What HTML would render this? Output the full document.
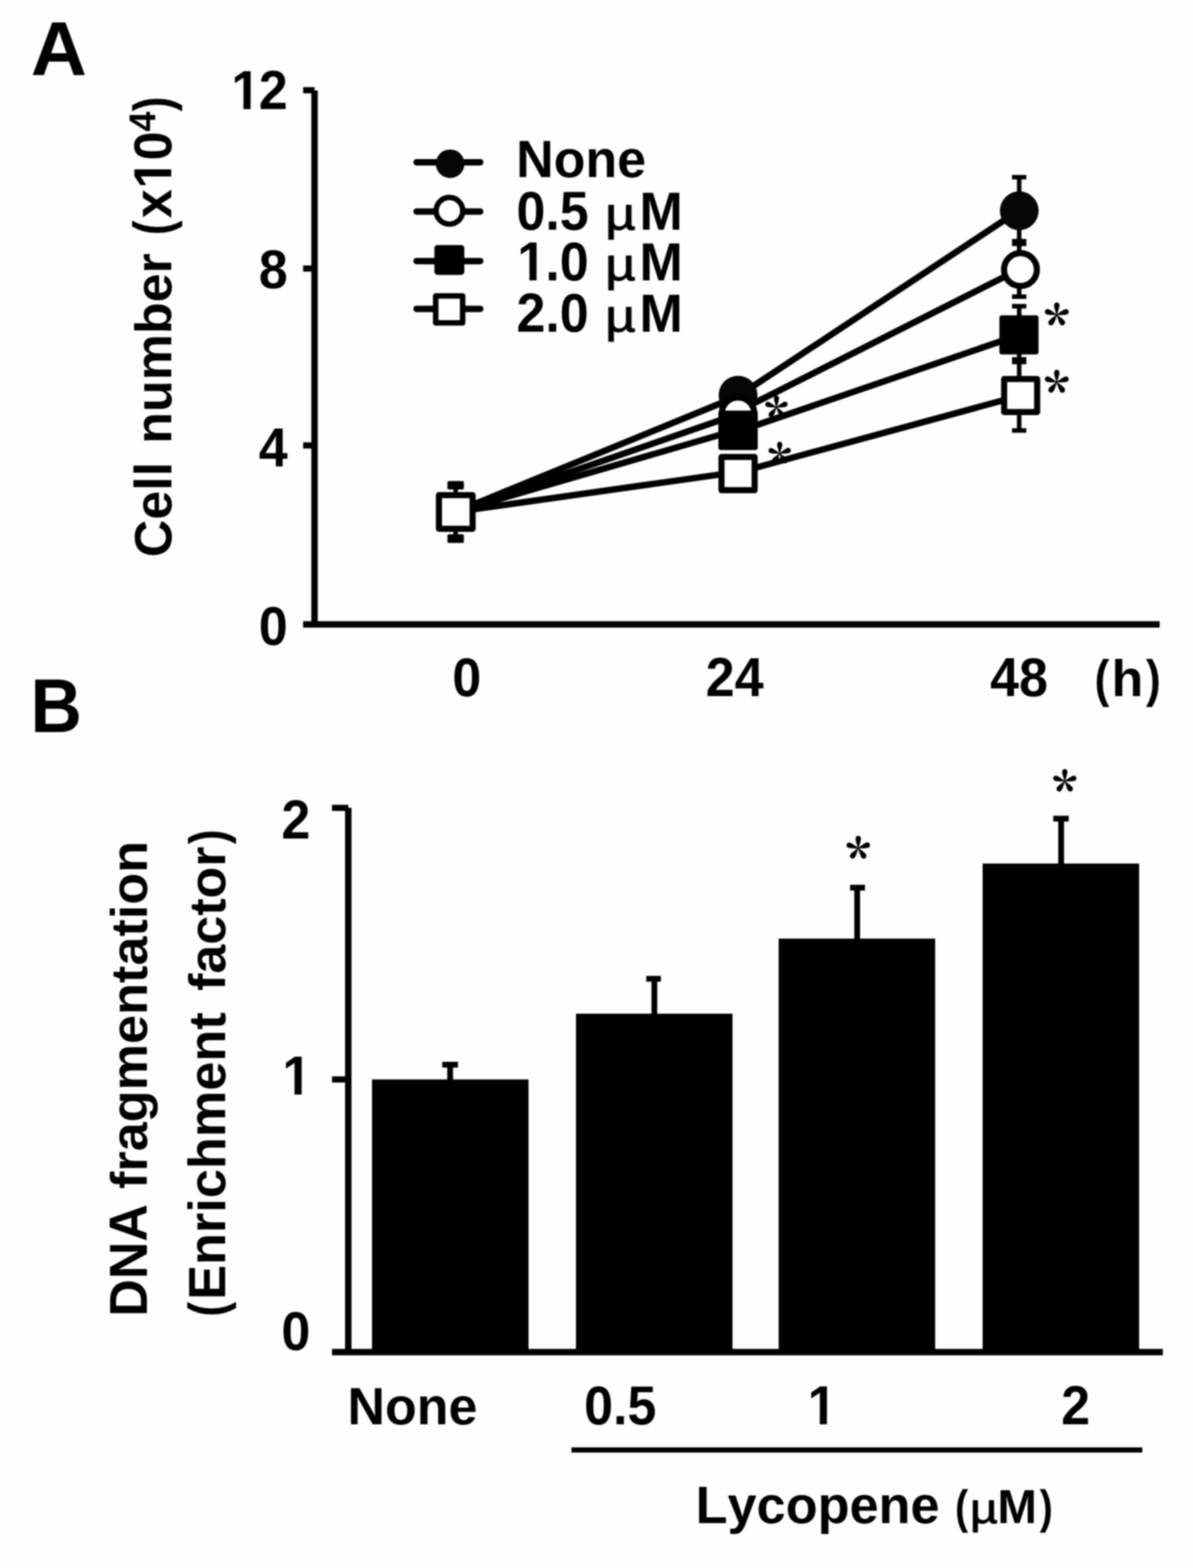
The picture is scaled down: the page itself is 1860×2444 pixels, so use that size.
<!DOCTYPE html>
<html lang="en">
<head>
<meta charset="utf-8">
<title>Figure: Lycopene effects on cell number and DNA fragmentation</title>
<style>
html,body{margin:0;padding:0;background:#fefefe;}
body{width:1860px;height:2444px;overflow:hidden;}
svg{display:block;filter:blur(1px);}
text{fill:#000;font-kerning:none;}
.b{font-family:"Liberation Sans", Arial, Helvetica, sans-serif;font-weight:700;}
.st{font-family:"Noto Serif CJK SC", "Liberation Serif", serif;font-weight:900;}
.mu{font-family:"Liberation Sans", Arial, Helvetica, sans-serif;font-weight:400;stroke:#000;stroke-width:1.3px;stroke-linejoin:round;}
</style>
</head>
<body>
<svg width="1860" height="2444" viewBox="0 0 1860 2444" role="img" aria-label="Panel A: cell number over time; Panel B: DNA fragmentation by lycopene concentration">
<defs>
<clipPath id="nofoot"><rect x="0" y="-70" width="44" height="61.2"/><rect x="18.9" y="-9.2" width="11.15" height="9.7"/><rect x="44" y="-80" width="200" height="110"/></clipPath>
<clipPath id="nofootx"><rect x="-5" y="-80" width="77.5" height="110"/><rect x="72.5" y="-70" width="44" height="61.2"/><rect x="91.38" y="-9.2" width="11.15" height="9.7"/><rect x="116.5" y="-110" width="120" height="140"/></clipPath>
</defs>
<rect x="0" y="0" width="1860" height="2444" fill="#fefefe"/>
<!-- panel labels -->
<text class="b" transform="translate(48,116.9) scale(1.063,1.04)" font-size="114">A</text>
<text class="b" transform="translate(47.4,1140.8) scale(0.975,1.04)" font-size="114">B</text>
<!-- panel A: axes -->
<line x1="490.4" y1="141" x2="490.4" y2="973.3" stroke="#000" stroke-width="10"/>
<line x1="472.6" y1="973.3" x2="1808" y2="973.3" stroke="#000" stroke-width="10"/>
<line x1="472.6" y1="140.6" x2="490.4" y2="140.6" stroke="#000" stroke-width="9.6"/>
<line x1="472.6" y1="418.6" x2="490.4" y2="418.6" stroke="#000" stroke-width="9.6"/>
<line x1="472.6" y1="694.3" x2="490.4" y2="694.3" stroke="#000" stroke-width="9.6"/>
<!-- panel A: tick labels -->
<text class="b" transform="translate(360.628,169.5) scale(1,1.05)" font-size="81" clip-path="url(#nofoot)">1<tspan x="42.836">2</tspan></text>
<text class="b" transform="translate(448.5,449.2) scale(1,1.05)" font-size="81" text-anchor="end">8</text>
<text class="b" transform="translate(448.5,726.6) scale(1,1.05)" font-size="81" text-anchor="end">4</text>
<text class="b" transform="translate(448.5,1004.7) scale(1,1.05)" font-size="81" text-anchor="end">0</text>
<text class="b" transform="translate(727.7,1084.5) scale(1,1.05)" font-size="81" text-anchor="middle">0</text>
<text class="b" transform="translate(1145.4,1084.5) scale(1,1.05)" font-size="81" text-anchor="middle">24</text>
<text class="b" transform="translate(1588.8,1084.5) scale(1,1.05)" font-size="81" text-anchor="middle">48</text>
<text class="b" transform="translate(1706.56,1084.8) scale(1,0.988)" font-size="81"><tspan textLength="22.927" lengthAdjust="spacingAndGlyphs">(</tspan><tspan x="26.44">h</tspan><tspan textLength="22.927" lengthAdjust="spacingAndGlyphs" x="80.3">)</tspan></text>
<!-- panel A: y axis title -->
<text class="b" transform="translate(266.5,868.5) rotate(-90) scale(1,1.01)" font-size="81">Cell</text>
<text class="b" transform="translate(266.5,691.7) rotate(-90) scale(1,0.985)" font-size="81">number</text>
<text class="b" transform="translate(266.5,366.44) rotate(-90) scale(1,1.02)" font-size="81" clip-path="url(#nofootx)"><tspan textLength="22.927" lengthAdjust="spacingAndGlyphs">(</tspan><tspan x="26.44">x</tspan><tspan x="72.48">1</tspan><tspan x="116.51">0</tspan><tspan x="161.44" dy="-24.5" font-size="56">4</tspan><tspan textLength="22.927" lengthAdjust="spacingAndGlyphs" x="192.9" dy="24.5">)</tspan></text>
<!-- panel A: data -->
<line x1="1589" y1="276" x2="1589" y2="462.4" stroke="#000" stroke-width="7"/>
<line x1="1589" y1="477.3" x2="1589" y2="671" stroke="#000" stroke-width="7"/>
<rect x="1577.8" y="272.7" width="22.4" height="7" fill="#000"/>
<rect x="1577.8" y="372.4" width="22.4" height="11.2" fill="#000"/>
<rect x="1577.8" y="458.9" width="22.4" height="7" fill="#000"/>
<rect x="1577.8" y="473.8" width="22.4" height="7" fill="#000"/>
<rect x="1577.8" y="556.7" width="22.4" height="11" fill="#000"/>
<rect x="1577.8" y="667.5" width="22.4" height="7" fill="#000"/>
<line x1="710.4" y1="752" x2="710.4" y2="845" stroke="#000" stroke-width="7"/>
<rect x="697.6" y="749.8" width="25.6" height="13.3" fill="#000" rx="2.5"/>
<rect x="697.6" y="832.8" width="25.6" height="13.5" fill="#000" rx="2.5"/>
<polyline points="710.4,797.7 1150.7,617.5 1589.5,327.5" fill="none" stroke="#000" stroke-width="10" stroke-linejoin="round"/>
<polyline points="710.4,797.7 1150.7,645.3" fill="none" stroke="#000" stroke-width="10" stroke-linejoin="round"/>
<polyline points="1150.7,641 1589.5,419.6" fill="none" stroke="#000" stroke-width="10" stroke-linejoin="round"/>
<polyline points="710.4,797.7 1150.7,669.5" fill="none" stroke="#000" stroke-width="10" stroke-linejoin="round"/>
<polyline points="1150.7,672.5 1589.5,521.9" fill="none" stroke="#000" stroke-width="10" stroke-linejoin="round"/>
<polyline points="710.4,797.7 1150.7,735.6" fill="none" stroke="#000" stroke-width="10" stroke-linejoin="round"/>
<polyline points="1150.7,736.5 1589.5,617" fill="none" stroke="#000" stroke-width="10" stroke-linejoin="round"/>
<circle cx="1150.7" cy="616" r="30.3" fill="#060606"/>
<circle cx="1150.7" cy="645" r="25.45" fill="#fff" stroke="#000" stroke-width="9.5"/>
<rect x="1120" y="640" width="61.4" height="61.4" fill="#000" rx="4"/>
<rect x="1124.85" y="712.35" width="51.7" height="51.7" fill="#fff" stroke="#000" stroke-width="9.5" stroke-linejoin="round"/>
<circle cx="1589.1" cy="328.5" r="30.2" fill="#060606"/>
<circle cx="1591" cy="420.2" r="25.65" fill="#fff" stroke="#000" stroke-width="9.5"/>
<rect x="1558.2" y="491.4" width="61" height="61" fill="#000" rx="4"/>
<rect x="1565.55" y="590.75" width="51.5" height="51.5" fill="#fff" stroke="#000" stroke-width="9.5" stroke-linejoin="round"/>
<rect x="684.35" y="771.75" width="52.5" height="52.5" fill="#fff" stroke="#000" stroke-width="9.5" stroke-linejoin="round"/>
<!-- panel A: significance marks -->
<text class="st" transform="translate(1192.08,679.512)" font-size="76">*</text>
<text class="st" transform="translate(1197.08,752.212)" font-size="76">*</text>
<text class="st" transform="translate(1627.655,538.572)" font-size="81">*</text>
<text class="st" transform="translate(1627.655,644.072)" font-size="81">*</text>
<!-- panel A: legend -->
<line x1="649.5" y1="252.9" x2="748.7" y2="252.9" stroke="#000" stroke-width="10" stroke-linecap="round"/>
<circle cx="701.8" cy="255.2" r="22.3" fill="#060606"/>
<text class="b" transform="translate(804.8,275.8) scale(1,1.015)" font-size="81">None</text>
<line x1="649.5" y1="329.7" x2="748.7" y2="329.7" stroke="#000" stroke-width="10" stroke-linecap="round"/>
<circle cx="700.7" cy="328.6" r="20.8" fill="#fff" stroke="#000" stroke-width="8.4"/>
<text class="b" transform="translate(805.3,358.2) scale(1,1.05)" font-size="81">0.5</text>
<text class="b" transform="translate(943.4,358.2) scale(1,1.04)" font-size="81"><tspan class="mu" font-size="70" textLength="47.578" lengthAdjust="spacingAndGlyphs">µ</tspan><tspan x="53.5">M</tspan></text>
<line x1="649.5" y1="406.9" x2="748.7" y2="406.9" stroke="#000" stroke-width="10" stroke-linecap="round"/>
<rect x="677.3" y="381.9" width="46.6" height="46.6" fill="#000" rx="5"/>
<text class="b" transform="translate(806.5,436.6) scale(1,1.05)" font-size="81" clip-path="url(#nofoot)">1<tspan x="43.836">.0</tspan></text>
<text class="b" transform="translate(943.4,436.6) scale(1,1.04)" font-size="81"><tspan class="mu" font-size="70" textLength="47.578" lengthAdjust="spacingAndGlyphs">µ</tspan><tspan x="53.5">M</tspan></text>
<line x1="649.5" y1="481.4" x2="748.7" y2="481.4" stroke="#000" stroke-width="10" stroke-linecap="round"/>
<rect x="679.3" y="461.2" width="42" height="42" fill="#fff" stroke="#000" stroke-width="8.6" stroke-linejoin="round"/>
<text class="b" transform="translate(805.3,516.8) scale(1,1.05)" font-size="81">2.0</text>
<text class="b" transform="translate(943.4,516.8) scale(1,1.04)" font-size="81"><tspan class="mu" font-size="70" textLength="47.578" lengthAdjust="spacingAndGlyphs">µ</tspan><tspan x="53.5">M</tspan></text>
<!-- panel B: axes -->
<line x1="543" y1="1259" x2="543" y2="2107.5" stroke="#000" stroke-width="10"/>
<line x1="517.6" y1="2107.5" x2="1813" y2="2107.5" stroke="#000" stroke-width="10"/>
<line x1="517.6" y1="1259.2" x2="543" y2="1259.2" stroke="#000" stroke-width="9.6"/>
<line x1="517.6" y1="1682.5" x2="543" y2="1682.5" stroke="#000" stroke-width="9.6"/>
<!-- panel B: tick labels -->
<text class="b" transform="translate(483.7,1307) scale(1,1.05)" font-size="81" text-anchor="end">2</text>
<text class="b" transform="translate(440.264,1705.7) scale(1,1.05)" font-size="81" clip-path="url(#nofoot)">1</text>
<text class="b" transform="translate(483.7,2104.1) scale(1,1.05)" font-size="81" text-anchor="end">0</text>
<!-- panel B: bars -->
<rect x="580" y="1682.5" width="244" height="425" fill="#000"/>
<line x1="701.8" y1="1659.5" x2="701.8" y2="1684.5" stroke="#000" stroke-width="9"/>
<line x1="689.55" y1="1659.5" x2="714.05" y2="1659.5" stroke="#000" stroke-width="9"/>
<rect x="898" y="1580" width="244" height="527.5" fill="#000"/>
<line x1="1020.2" y1="1525.6" x2="1020.2" y2="1582" stroke="#000" stroke-width="9"/>
<line x1="1007.6" y1="1525.6" x2="1030.4" y2="1525.6" stroke="#000" stroke-width="9"/>
<rect x="1214" y="1463" width="244" height="644.5" fill="#000"/>
<line x1="1336.4" y1="1383.6" x2="1336.4" y2="1465" stroke="#000" stroke-width="9"/>
<line x1="1325.4" y1="1383.6" x2="1348.6" y2="1383.6" stroke="#000" stroke-width="9"/>
<rect x="1532" y="1346" width="244" height="761.5" fill="#000"/>
<line x1="1654.4" y1="1276" x2="1654.4" y2="1348" stroke="#000" stroke-width="9"/>
<line x1="1642.2" y1="1276" x2="1666.2" y2="1276" stroke="#000" stroke-width="9"/>
<text class="st" transform="translate(1318.4,1370.16)" font-size="80">*</text>
<text class="st" transform="translate(1640.645,1265.148)" font-size="79">*</text>
<!-- panel B: category labels -->
<text class="b" transform="translate(541.75,2220) scale(1,1.015)" font-size="81">None</text>
<text class="b" transform="translate(967,2220) scale(1,1.05)" font-size="81" text-anchor="middle">0.5</text>
<text class="b" transform="translate(1259.182,2220) scale(1,1.05)" font-size="81" clip-path="url(#nofoot)">1</text>
<text class="b" transform="translate(1677,2220) scale(1,1.05)" font-size="81" text-anchor="middle">2</text>
<line x1="891" y1="2260" x2="1781" y2="2260" stroke="#000" stroke-width="8"/>
<text class="b" transform="translate(1084.5,2373.5)" font-size="81.5">Lycopene</text>
<text class="b" transform="translate(1488.94,2374) scale(1,1.01)" font-size="72"><tspan textLength="20.38" lengthAdjust="spacingAndGlyphs">(</tspan><tspan class="mu" font-size="65.5" textLength="43.387" lengthAdjust="spacingAndGlyphs" x="23.3">µ</tspan><tspan x="66.1" font-size="74">M</tspan><tspan textLength="20.38" lengthAdjust="spacingAndGlyphs" x="131.95">)</tspan></text>
<!-- panel B: y axis title -->
<text class="b" transform="translate(229,2052.3) rotate(-90) scale(1,1.04)" font-size="81">DNA</text>
<text class="b" transform="translate(229,1853.3) rotate(-90) scale(1.005,0.985)" font-size="81">fragmentation</text>
<text class="b" transform="translate(351.2,2052.24) rotate(-90) scale(1.006,1)" font-size="81"><tspan textLength="22.927" lengthAdjust="spacingAndGlyphs">(</tspan><tspan x="26.083">Enrichment</tspan></text>
<text class="b" transform="translate(351.2,1544.4) rotate(-90) scale(1,0.988)" font-size="81">factor<tspan textLength="22.927" lengthAdjust="spacingAndGlyphs" x="228.76">)</tspan></text>
</svg>
</body>
</html>
